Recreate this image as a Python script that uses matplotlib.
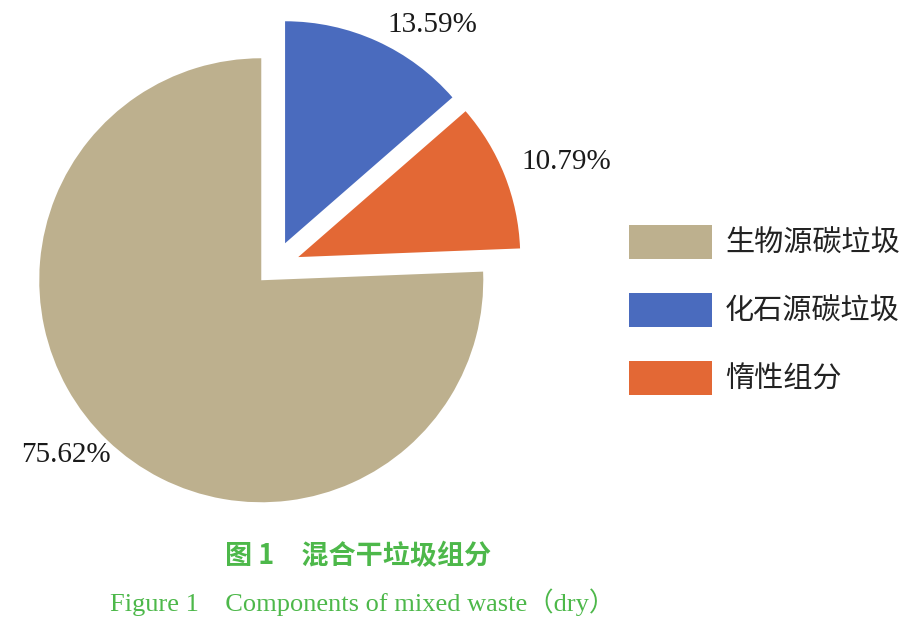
import matplotlib
matplotlib.use("Agg")
import matplotlib.pyplot as plt

# ---- Data ----
labels = ["生物源碳垃圾", "化石源碳垃圾", "惰性组分"]
shares = [75.62, 13.59, 10.79]
colors = ["#BDB08E", "#4A6BBE", "#E36835"]
explode = [0.086, 0.115, 0.115]

plt.rcParams["font.family"] = ["Noto Sans CJK SC", "DejaVu Sans"]

# pie geometry in pixels (radius, center) used to place the axes
R = 222.0
CX, CY = 274.5, 266.5

fig = plt.figure(figsize=(9.06, 6.31), dpi=100)
ax = fig.add_axes([0, 111 / 631, 540 / 906, 520 / 631])

# start so that the blue wedge begins at 12 o'clock, going clockwise
start = 90 + 360 * shares[0] / sum(shares)
wedges, _ = ax.pie(shares, colors=colors, explode=explode, startangle=start,
                   counterclock=False, radius=1.0)
ax.set_aspect("auto")
ax.set_xlim(-CX / R, (540 - CX) / R)
ax.set_ylim(-(520 - CY) / R, CY / R)
ax.axis("off")

# ---- Percent labels (pixel positions from the figure) ----
label_px = [(66, 455), (432, 25), (566, 162)]
for (px, py), v in zip(label_px, shares):
    ax.text((px - CX) / R, (CY - py) / R, f"{v:.2f}%", ha="center", va="center",
            fontsize=21, family="Liberation Serif", color="#1a1a1a")

# ---- Legend ----
leg = fig.legend(wedges, labels, loc="upper left",
                 bbox_to_anchor=(629 / 906, 1 - 225 / 631),
                 frameon=False, handlelength=2.84, handleheight=1.44,
                 labelspacing=1.15, handletextpad=0.45,
                 borderpad=0, borderaxespad=0,
                 prop={"family": "Noto Sans CJK SC", "size": 21, "weight": "light"})
for t in leg.get_texts():
    t.set_color("#222222")

# ---- Caption ----
green = "#4DB84A"
fig.text(358 / 906, 1 - 556 / 631, "图 1　混合干垃圾组分", ha="center", va="center",
         fontsize=19.5, color=green, fontweight="bold")
fig.text(363 / 906, 1 - 602 / 631, "Figure 1　Components of mixed waste（dry）",
         ha="center", va="center", fontsize=19, color=green,
         family=["Liberation Serif", "Noto Sans CJK SC"])

fig.savefig("out.png", dpi=100)
